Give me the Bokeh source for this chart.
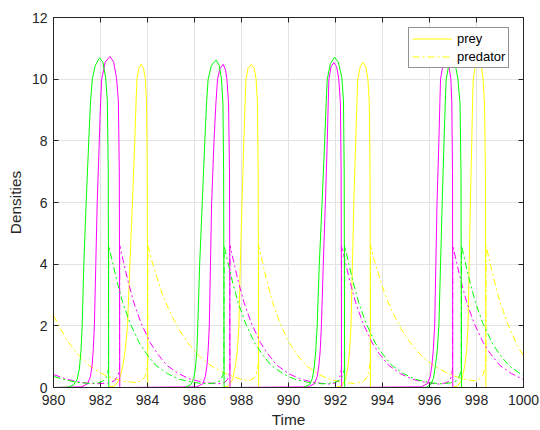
from bokeh.plotting import figure
from bokeh.models import Range1d, FixedTicker, LinearAxis, Legend, LegendItem
from bokeh.embed import file_html
from bokeh.resources import INLINE

# ---------------- data ----------------
x_ticks = [980, 982, 984, 986, 988, 990, 992, 994, 996, 998, 1000]
y_ticks = [0, 2, 4, 6, 8, 10, 12]

yellow_prey_t = [980.0, 982.3, 982.6, 982.8, 982.95, 983.05, 983.15, 983.25, 983.36, 983.46, 983.51, 983.55, 983.63, 983.73, 983.83, 983.91, 983.96, 983.99, 984.01,
                 987.2, 987.45, 987.62, 987.74, 987.82, 987.89, 987.95, 988.02, 988.10, 988.15, 988.19, 988.28, 988.42, 988.54, 988.62, 988.68, 988.71, 988.73,
                 992.0, 992.25, 992.42, 992.53, 992.60, 992.66, 992.72, 992.78, 992.86, 992.91, 992.95, 993.05, 993.17, 993.29, 993.38, 993.44, 993.47, 993.49,
                 996.95, 997.2, 997.38, 997.5, 997.58, 997.64, 997.69, 997.74, 997.80, 997.83, 997.86, 997.96, 998.08, 998.20, 998.28, 998.34, 998.38, 998.40, 1000.0]
yellow_prey_y = [0.0, 0.0, 0.05, 0.25, 0.7, 1.2, 2.0, 4.0, 6.0, 8.0, 9.2, 10.0, 10.35, 10.48, 10.35, 10.0, 9.2, 7.0, 0.0,
                 0.0, 0.05, 0.25, 0.7, 1.2, 2.0, 4.0, 6.0, 8.0, 9.2, 10.0, 10.35, 10.48, 10.35, 10.0, 9.2, 7.0, 0.0,
                 0.0, 0.05, 0.25, 0.7, 1.2, 2.0, 4.0, 6.0, 8.0, 9.2, 10.0, 10.4, 10.55, 10.4, 10.0, 9.2, 7.0, 0.0,
                 0.0, 0.05, 0.25, 0.7, 1.2, 2.0, 4.0, 6.0, 8.0, 9.2, 10.0, 10.45, 10.6, 10.45, 10.0, 9.2, 7.0, 0.0, 0.0]

yellow_pred_t = [980.0, 980.3, 980.6, 981.0, 981.5, 982.0, 982.5, 983.0, 983.5, 983.75, 983.9, 983.97, 984.01,
                 984.02, 984.17, 984.37, 984.62, 984.92, 985.32, 985.72, 986.22, 986.72, 987.32, 987.92, 988.3, 988.5, 988.62, 988.69, 988.72,
                 988.73, 988.88, 989.08, 989.33, 989.63, 990.03, 990.33, 990.73, 991.23, 991.73, 992.33, 992.9, 993.2, 993.35, 993.44, 993.48,
                 993.49, 993.64, 993.84, 994.09, 994.39, 994.79, 995.19, 995.69, 996.19, 996.79, 997.39, 997.9, 998.15, 998.28, 998.36, 998.40,
                 998.41, 998.56, 998.76, 999.01, 999.31, 999.71, 1000.0]
yellow_pred_y = [2.33, 1.9, 1.5, 1.1, 0.72, 0.47, 0.3, 0.2, 0.16, 0.22, 0.35, 0.6, 0.85,
                 4.6, 4.15, 3.65, 3.05, 2.5, 1.9, 1.45, 1.0, 0.7, 0.45, 0.28, 0.22, 0.28, 0.42, 0.65, 0.85,
                 4.6, 4.1, 3.45, 2.75, 2.1, 1.45, 1.1, 0.72, 0.45, 0.27, 0.16, 0.13, 0.2, 0.35, 0.6, 0.85,
                 4.6, 4.15, 3.65, 3.05, 2.5, 1.9, 1.45, 1.0, 0.7, 0.45, 0.28, 0.22, 0.28, 0.42, 0.65, 0.85,
                 4.6, 4.1, 3.45, 2.75, 2.1, 1.4, 1.02]

magenta_prey_t = [980.0, 981.2, 981.45, 981.57, 981.64, 981.69, 981.74, 981.80, 981.86, 981.95, 982.00, 982.05, 982.20, 982.40, 982.56, 982.68, 982.76, 982.80, 982.82,
                  986.1, 986.35, 986.46, 986.53, 986.58, 986.63, 986.68, 986.73, 986.83, 986.91, 986.98, 987.09, 987.22, 987.32, 987.38, 987.45, 987.49, 987.51,
                  990.85, 991.1, 991.22, 991.29, 991.35, 991.40, 991.48, 991.57, 991.65, 991.69, 991.72, 991.81, 991.93, 992.05, 992.14, 992.21, 992.24, 992.26,
                  995.65, 995.9, 996.03, 996.10, 996.16, 996.22, 996.27, 996.32, 996.40, 996.44, 996.47, 996.57, 996.70, 996.82, 996.91, 996.95, 996.98, 996.99, 1000.0]
magenta_prey_y = [0.0, 0.02, 0.12, 0.35, 0.7, 1.2, 2.0, 4.0, 6.0, 8.0, 9.2, 10.0, 10.55, 10.74, 10.55, 10.05, 9.3, 7.0, 0.0,
                  0.02, 0.12, 0.35, 0.7, 1.2, 2.0, 4.0, 6.0, 8.0, 9.2, 10.0, 10.35, 10.48, 10.3, 10.0, 9.2, 7.0, 0.0,
                  0.02, 0.12, 0.35, 0.7, 1.2, 2.0, 4.0, 6.0, 8.0, 9.2, 10.0, 10.4, 10.54, 10.4, 10.0, 9.2, 7.0, 0.0,
                  0.02, 0.12, 0.35, 0.7, 1.2, 2.0, 4.0, 6.0, 8.0, 9.2, 10.0, 10.45, 10.6, 10.45, 10.0, 9.2, 7.0, 0.0, 0.0]

magenta_pred_t = [980.0, 980.6, 981.2, 981.8, 982.3, 982.6, 982.74, 982.81,
                  982.82, 982.97, 983.17, 983.42, 983.72, 984.12, 984.42, 984.82, 985.32, 985.82, 986.42, 987.0, 987.25, 987.4, 987.47, 987.50,
                  987.51, 987.66, 987.86, 988.11, 988.41, 988.81, 989.11, 989.51, 990.01, 990.51, 991.11, 991.7, 991.95, 992.12, 992.2, 992.25,
                  992.26, 992.41, 992.61, 992.86, 993.16, 993.56, 993.86, 994.26, 994.76, 995.26, 995.86, 996.4, 996.7, 996.86, 996.94, 996.98,
                  996.99, 997.14, 997.34, 997.59, 997.89, 998.29, 998.59, 998.99, 999.49, 1000.0]
magenta_pred_y = [0.42, 0.26, 0.16, 0.12, 0.14, 0.22, 0.38, 0.6,
                  4.6, 4.1, 3.45, 2.75, 2.1, 1.45, 1.1, 0.72, 0.45, 0.27, 0.16, 0.12, 0.15, 0.25, 0.4, 0.6,
                  4.6, 4.1, 3.45, 2.75, 2.1, 1.45, 1.1, 0.72, 0.45, 0.27, 0.16, 0.11, 0.14, 0.22, 0.38, 0.6,
                  4.6, 4.1, 3.45, 2.75, 2.1, 1.45, 1.1, 0.72, 0.45, 0.27, 0.16, 0.11, 0.15, 0.22, 0.38, 0.6,
                  4.6, 4.1, 3.45, 2.75, 2.1, 1.45, 1.1, 0.72, 0.45, 0.26]

green_prey_t = [980.0, 980.6, 980.85, 981.0, 981.1, 981.17, 981.22, 981.29, 981.39, 981.50, 981.57, 981.65, 981.78, 981.96, 982.10, 982.22, 982.29, 982.33, 982.35,
                985.6, 985.85, 985.97, 986.05, 986.10, 986.14, 986.22, 986.33, 986.44, 986.51, 986.58, 986.72, 986.92, 987.05, 987.15, 987.21, 987.24, 987.26,
                990.65, 990.9, 991.02, 991.10, 991.16, 991.22, 991.31, 991.43, 991.54, 991.60, 991.65, 991.78, 991.96, 992.12, 992.27, 992.34, 992.37, 992.39,
                995.85, 996.05, 996.17, 996.25, 996.33, 996.40, 996.47, 996.54, 996.62, 996.67, 996.71, 996.82, 996.96, 997.10, 997.21, 997.30, 997.34, 997.36, 1000.0]
green_prey_y = [0.0, 0.01, 0.08, 0.25, 0.6, 1.2, 2.0, 4.0, 6.0, 8.0, 9.2, 10.0, 10.45, 10.69, 10.55, 10.05, 9.3, 7.0, 0.0,
                0.0, 0.1, 0.3, 0.7, 1.2, 2.0, 4.0, 6.0, 8.0, 9.2, 10.0, 10.45, 10.62, 10.45, 10.0, 9.2, 7.0, 0.0,
                0.0, 0.1, 0.3, 0.7, 1.2, 2.0, 4.0, 6.0, 8.0, 9.2, 10.0, 10.5, 10.71, 10.55, 10.05, 9.3, 7.0, 0.0,
                0.0, 0.1, 0.3, 0.7, 1.2, 2.0, 4.0, 6.0, 8.0, 9.2, 10.0, 10.45, 10.65, 10.45, 10.0, 9.2, 7.0, 0.0, 0.0]

green_pred_t = [980.0, 980.5, 981.0, 981.5, 981.9, 982.15, 982.28, 982.34,
                982.35, 982.50, 982.70, 982.95, 983.25, 983.65, 983.95, 984.35, 984.85, 985.35, 985.95, 986.55, 986.9, 987.1, 987.2, 987.25,
                987.26, 987.41, 987.61, 987.86, 988.16, 988.56, 988.86, 989.26, 989.76, 990.26, 990.86, 991.46, 991.9, 992.15, 992.3, 992.38,
                992.39, 992.54, 992.74, 992.99, 993.29, 993.69, 993.99, 994.39, 994.89, 995.39, 995.99, 996.5, 996.9, 997.15, 997.28, 997.35,
                997.36, 997.51, 997.71, 997.96, 998.26, 998.66, 998.96, 999.36, 999.86, 1000.0]
green_pred_y = [0.36, 0.25, 0.17, 0.13, 0.15, 0.22, 0.38, 0.6,
                4.6, 4.1, 3.45, 2.75, 2.1, 1.45, 1.1, 0.72, 0.45, 0.27, 0.16, 0.12, 0.15, 0.22, 0.38, 0.6,
                4.6, 4.1, 3.45, 2.75, 2.1, 1.45, 1.1, 0.72, 0.45, 0.27, 0.16, 0.12, 0.15, 0.22, 0.38, 0.6,
                4.6, 4.1, 3.45, 2.75, 2.1, 1.45, 1.1, 0.72, 0.45, 0.27, 0.16, 0.12, 0.15, 0.22, 0.38, 0.6,
                4.6, 4.1, 3.45, 2.75, 2.1, 1.45, 1.1, 0.72, 0.45, 0.41]

YELLOW = "#ffff00"
MAGENTA = "#ff00ff"
GREEN = "#00ff00"
AXIS_COLOR = "#262626"
FONT = "Liberation Sans"
DASHDOT = "7 3 2 3"

# ---------------- figure ----------------
p = figure(width=540, height=430, output_backend="svg", toolbar_location=None,
           x_range=Range1d(980, 1000), y_range=Range1d(0, 12),
           min_border_left=53, min_border_right=17, min_border_top=17, min_border_bottom=43)
p.background_fill_color = "white"
p.border_fill_color = "white"
p.outline_line_color = AXIS_COLOR
p.outline_line_width = 1

for ax, ticks in ((p.xaxis[0], x_ticks), (p.yaxis[0], y_ticks)):
    ax.ticker = FixedTicker(ticks=ticks)
    ax.minor_tick_line_color = None
    ax.major_tick_in = 5
    ax.major_tick_out = 0
    ax.axis_line_color = AXIS_COLOR
    ax.major_tick_line_color = AXIS_COLOR
    ax.major_label_text_font = FONT
    ax.major_label_text_font_size = "14px"
    ax.major_label_text_color = AXIS_COLOR
    ax.axis_label_text_font = FONT
    ax.axis_label_text_font_size = "15.4px"
    ax.axis_label_text_font_style = "normal"
    ax.axis_label_text_color = AXIS_COLOR

p.xaxis.axis_label = "Time"
p.yaxis.axis_label = "Densities"
p.xaxis.major_label_standoff = 7
p.xaxis.axis_label_standoff = 3
p.yaxis.major_label_standoff = 6
p.yaxis.axis_label_standoff = 5

for place, ticks in (("right", y_ticks), ("above", x_ticks)):
    ax = LinearAxis(ticker=FixedTicker(ticks=ticks))
    ax.major_label_overrides = {t: "" for t in ticks}
    ax.major_label_standoff = 0
    ax.major_label_text_font_size = "1px"
    ax.minor_tick_line_color = None
    ax.major_tick_in = 5
    ax.major_tick_out = 0
    ax.axis_line_color = AXIS_COLOR
    ax.major_tick_line_color = AXIS_COLOR
    p.add_layout(ax, place)

p.xgrid.ticker = FixedTicker(ticks=x_ticks)
p.ygrid.ticker = FixedTicker(ticks=y_ticks)
p.grid.grid_line_color = "#e3e3e3"
p.grid.grid_line_width = 1

r_yp = p.line(yellow_prey_t, yellow_prey_y, line_color=YELLOW, line_width=1)
r_yd = p.line(yellow_pred_t, yellow_pred_y, line_color=YELLOW, line_width=1, line_dash=DASHDOT)
p.line(magenta_prey_t, magenta_prey_y, line_color=MAGENTA, line_width=1)
p.line(magenta_pred_t, magenta_pred_y, line_color=MAGENTA, line_width=1, line_dash=DASHDOT)
p.line(green_prey_t, green_prey_y, line_color=GREEN, line_width=1)
p.line(green_pred_t, green_pred_y, line_color=GREEN, line_width=1, line_dash=DASHDOT)

legend = Legend(items=[LegendItem(label="prey", renderers=[r_yp]),
                       LegendItem(label="predator", renderers=[r_yd])],
                location=(355, 319))
legend.label_text_font = FONT
legend.label_text_font_size = "13px"
legend.label_text_color = "black"
legend.border_line_color = AXIS_COLOR
legend.border_line_width = 1
legend.background_fill_color = "white"
legend.background_fill_alpha = 1
legend.glyph_width = 40
legend.glyph_height = 15
legend.label_height = 15
legend.spacing = 3
legend.padding = 3
legend.margin = 0
legend.label_standoff = 5
p.add_layout(legend)

open("out.html", "w").write(file_html(p, INLINE))
